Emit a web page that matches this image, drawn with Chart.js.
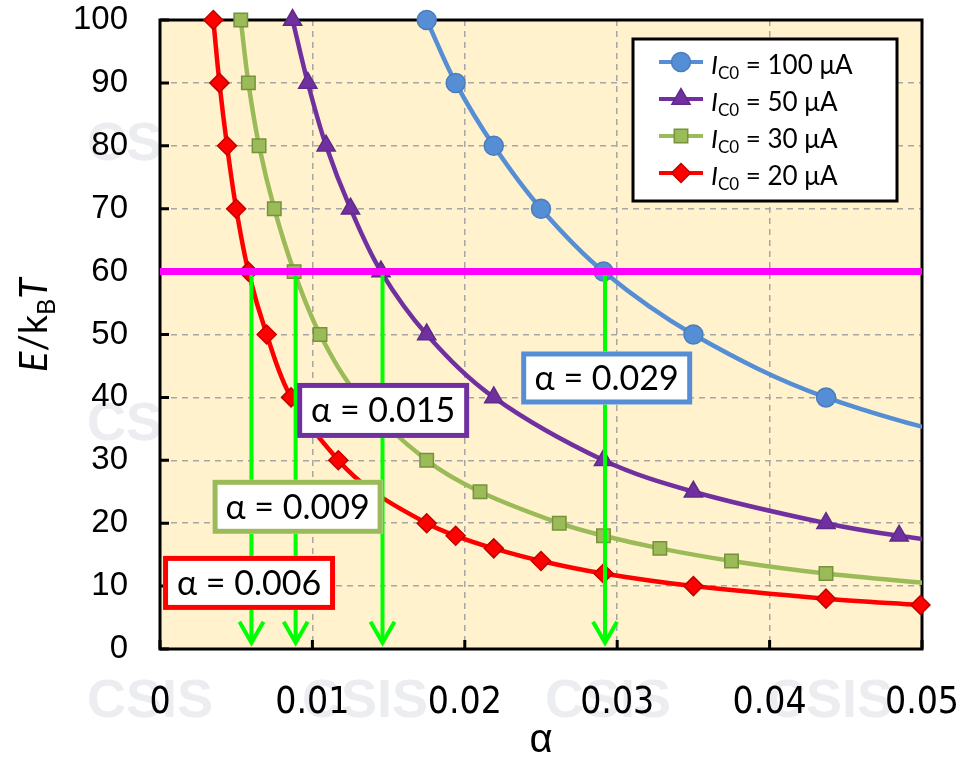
<!DOCTYPE html>
<html>
<head>
<meta charset="utf-8">
<title>E/kBT vs alpha</title>
<script src="https://cdn.jsdelivr.net/npm/chart.js@4.4.1/dist/chart.umd.min.js"></script>
<style>
  html, body { margin: 0; padding: 0; background: #fff; }
  canvas { display: block; }
</style>
</head>
<body>
<canvas id="chart" width="966" height="760"></canvas>
<script>
// values: alpha (x) and E/kBT (y), one pair of arrays per I_C0
const alpha_100 = [0.0175, 0.0194, 0.0219, 0.0250, 0.0291, 0.0350, 0.0437, 0.0583];
const e_100     = [100, 90, 80, 70, 60, 50, 40, 30];

const alpha_50 = [0.0087, 0.0097, 0.0109, 0.0125, 0.0145, 0.0175, 0.0219, 0.0291, 0.0350, 0.0437, 0.0485, 0.0583];
const e_50     = [100, 90, 80, 70, 60, 50, 40, 30, 25, 20, 18, 15];

const alpha_30 = [0.0053, 0.0058, 0.0065, 0.0075, 0.0088, 0.0105, 0.0131, 0.0175, 0.0210, 0.0262, 0.0291, 0.0328, 0.0375, 0.0437, 0.0525];
const e_30     = [100, 90, 80, 70, 60, 50, 40, 30, 25, 20, 18, 16, 14, 12, 10];

const alpha_20 = [0.0035, 0.0039, 0.0044, 0.0050, 0.0058, 0.0070, 0.0086, 0.0117, 0.0140, 0.0175, 0.0194, 0.0219, 0.0250, 0.0291, 0.0350, 0.0437, 0.0499];
const e_20     = [100, 90, 80, 70, 60, 50, 40, 30, 25, 20, 18, 16, 14, 12, 10, 8, 7];

const series_currents = ['100', '50', '30', '20'];

// E/kBT = 60 threshold and where each curve crosses it
const threshold = 60;
const arrow_alpha = [0.0060, 0.0089, 0.0146, 0.0292];
const arrow_labels = ['α = 0.006', 'α = 0.009', 'α = 0.015', 'α = 0.029'];

// label box anchors (top-left, data units) and sizes in px
const label_boxes = [
    {x: 0.0002, y: 14.8, w: 172, h: 54, color: '#FF0000'},
    {x: 0.00345, y: 26.9, w: 170, h: 54, color: '#9BBB59'},
    {x: 0.0090, y: 42.3, w: 172, h: 55, color: '#7030A0'},
    {x: 0.0237, y: 47.3, w: 171, h: 53, color: '#558ED5'}
];

const rich_font = 'Lato, "Open Sans", "DejaVu Sans", sans-serif';

function to_points(xs, ys){
    return xs.map((x, i) => ({x: x, y: ys[i]}));
}

function series(current, xs, ys, line, fill, edge, style, radius, right_clip){
    return {
        label: current,
        data: to_points(xs, ys),
        borderColor: line,
        borderWidth: 4.5,
        tension: 0.35,
        pointStyle: style,
        pointRadius: radius,
        pointHoverRadius: radius,
        pointBackgroundColor: fill,
        pointBorderColor: edge,
        pointBorderWidth: 1.5,
        clip: {left: 14, top: 14, right: right_clip, bottom: 14},
        is_series: true
    };
}

// draw text made of pieces: [text, kind] with kind '' normal, 'i' italic, 's' subscript
function draw_rich(ctx, parts, x, y, size, align){
    const font_of = p => (p[1] === 'i' ? 'italic ' : '') + (p[1] === 's' ? Math.round(size * 0.66) : size) + 'px ' + rich_font;
    let total = 0;
    parts.forEach(p => { ctx.font = font_of(p); total += ctx.measureText(p[0]).width; });
    let cx = align === 'center' ? x - total / 2 : x;
    ctx.textAlign = 'left';
    ctx.textBaseline = 'alphabetic';
    parts.forEach(p => {
        ctx.font = font_of(p);
        ctx.fillText(p[0], cx, y + (p[1] === 's' ? size * 0.2 : 0));
        cx += ctx.measureText(p[0]).width;
    });
}

const decor_plugin = {
    id: 'decor',
    beforeDraw(chart){
        const ctx = chart.ctx;
        const a = chart.chartArea;
        ctx.save();
        ctx.fillStyle = '#fff';
        ctx.fillRect(0, 0, chart.width, chart.height);
        // faint watermark behind the chart
        ctx.fillStyle = '#ECEDF0';
        ctx.font = 'bold 54px "Liberation Sans", Arial, sans-serif';
        ctx.textAlign = 'center';
        ctx.textBaseline = 'alphabetic';
        [160, 440].forEach(y => ctx.fillText('CSIS', 150, y));
        [150, 365, 608, 830].forEach(x => ctx.fillText('CSIS', x, 717));
        ctx.fillStyle = '#FFF2CC';
        ctx.fillRect(a.left, a.top, a.right - a.left, a.bottom - a.top);
        ctx.restore();
    },
    beforeDatasetsDraw(chart){
        const ctx = chart.ctx;
        const a = chart.chartArea;
        const xs = chart.scales.x, ys = chart.scales.y;
        ctx.save();
        ctx.strokeStyle = '#000';
        ctx.lineWidth = 3;
        ctx.strokeRect(a.left, a.top, a.right - a.left, a.bottom - a.top);
        ctx.beginPath();
        ys.ticks.forEach(t => {
            const y = ys.getPixelForValue(t.value);
            ctx.moveTo(a.left, y); ctx.lineTo(a.left + 9, y);
        });
        xs.ticks.forEach(t => {
            const x = xs.getPixelForValue(t.value);
            ctx.moveTo(x, a.bottom); ctx.lineTo(x, a.bottom - 9);
        });
        ctx.stroke();
        ctx.restore();
    },
    afterDatasetsDraw(chart){
        const ctx = chart.ctx;
        ctx.save();
        ctx.strokeStyle = '#00FF00';
        ctx.lineWidth = 4;
        ctx.lineJoin = 'miter';
        chart.data.datasets.forEach((ds, i) => {
            if (!ds.is_arrow) return;
            const tip = chart.getDatasetMeta(i).data[1];
            ctx.beginPath();
            ctx.moveTo(tip.x - 12, tip.y - 21);
            ctx.lineTo(tip.x, tip.y);
            ctx.lineTo(tip.x + 12, tip.y - 21);
            ctx.stroke();
        });
        ctx.restore();
    },
    afterDraw(chart){
        const ctx = chart.ctx;
        const a = chart.chartArea;
        const xs = chart.scales.x, ys = chart.scales.y;
        ctx.save();

        // alpha labels in boxes
        label_boxes.forEach((b, i) => {
            const left = xs.getPixelForValue(b.x);
            const top = ys.getPixelForValue(b.y);
            ctx.fillStyle = '#fff';
            ctx.fillRect(left, top, b.w, b.h);
            ctx.strokeStyle = b.color;
            ctx.lineWidth = 5;
            ctx.strokeRect(left + 2.5, top + 2.5, b.w - 5, b.h - 5);
            ctx.fillStyle = '#000';
            ctx.font = '34px ' + rich_font;
            ctx.textAlign = 'center';
            ctx.textBaseline = 'alphabetic';
            ctx.fillText(arrow_labels[i], left + b.w / 2, top + b.h / 2 + 12);
        });

        // legend
        const lx = 633, ly = 39, lw = 264, lh = 162;
        ctx.fillStyle = '#fff';
        ctx.fillRect(lx, ly, lw, lh);
        ctx.strokeStyle = '#000';
        ctx.lineWidth = 3;
        ctx.strokeRect(lx, ly, lw, lh);
        let row = 0;
        chart.data.datasets.forEach(ds => {
            if (!ds.is_series) return;
            const cy = 62 + row * 37;
            ctx.strokeStyle = ds.borderColor;
            ctx.lineWidth = 4;
            ctx.beginPath();
            ctx.moveTo(659, cy); ctx.lineTo(703, cy);
            ctx.stroke();
            ctx.fillStyle = ds.pointBackgroundColor;
            ctx.strokeStyle = ds.pointBorderColor;
            ctx.lineWidth = ds.pointBorderWidth;
            Chart.helpers.drawPoint(ctx, {pointStyle: ds.pointStyle, radius: ds.pointRadius, borderWidth: ds.pointBorderWidth, rotation: 0}, 681, cy);
            ctx.fillStyle = '#000';
            draw_rich(ctx, [['I', 'i'], ['C0', 's'], [' = ' + ds.label + ' μA', '']], 711, cy + 12, 26, 'left');
            row++;
        });

        // axis titles
        ctx.fillStyle = '#000';
        ctx.font = '40px "Liberation Sans", Arial, sans-serif';
        ctx.textAlign = 'center';
        ctx.textBaseline = 'alphabetic';
        ctx.fillText('α', (a.left + a.right) / 2, 752);

        ctx.translate(47, 325);
        ctx.rotate(-Math.PI / 2);
        draw_rich(ctx, [['E', 'i'], ['/k', ''], ['B', 's'], ['T', 'i']], 0, 0, 38, 'center');
        ctx.restore();
    }
};

const datasets = [];
datasets.push({
    label: 'threshold',
    data: [{x: 0, y: threshold}, {x: 0.05, y: threshold}],
    borderColor: '#FF00FF',
    borderWidth: 7,
    pointRadius: 0,
    clip: 0
});
arrow_alpha.forEach(a => {
    datasets.push({
        label: 'arrow',
        data: [{x: a, y: threshold}, {x: a, y: 1}],
        borderColor: '#00FF00',
        borderWidth: 4,
        pointRadius: 0,
        is_arrow: true
    });
});
datasets.push(series(series_currents[0], alpha_100, e_100, '#558ED5', '#558ED5', '#4A7EBB', 'circle', 9.5, 0));
datasets.push(series(series_currents[1], alpha_50, e_50, '#7030A0', '#7030A0', '#5F2B87', 'triangle', 10.5, 0));
datasets.push(series(series_currents[2], alpha_30, e_30, '#9BBB59', '#9BBB59', '#76923C', 'rect', 9.5, 0));
datasets.push(series(series_currents[3], alpha_20, e_20, '#FF0000', '#FF0000', '#C00000', 'rectRot', 9.5, 14));

const chart = new Chart(document.getElementById('chart'), {
    type: 'line',
    data: {datasets: datasets},
    plugins: [decor_plugin],
    options: {
        responsive: false,
        animation: false,
        devicePixelRatio: 1,
        events: [],
        layout: {padding: {top: 20, right: 44, left: 0, bottom: 0}},
        plugins: {legend: {display: false}, tooltip: {enabled: false}},
        scales: {
            x: {
                type: 'linear',
                min: 0,
                max: 0.05,
                afterFit: s => { s.height = 111; s.paddingLeft = 0; s.paddingRight = 0; },
                ticks: {
                    stepSize: 0.01,
                    padding: 32,
                    color: '#000',
                    font: {family: '"Liberation Sans Narrow", "DejaVu Sans Condensed", "Liberation Sans", Arial', size: 37},
                    callback: v => String(+v.toFixed(2))
                },
                grid: {color: '#A6A6A6', lineWidth: 1.5, drawTicks: false},
                border: {display: false, dash: [6, 5]}
            },
            y: {
                type: 'linear',
                min: 0,
                max: 100,
                afterFit: s => { s.width = 160; s.paddingTop = 0; s.paddingBottom = 0; },
                ticks: {
                    stepSize: 10,
                    padding: 32,
                    color: '#000',
                    font: {family: '"Liberation Sans", Arial', size: 33}
                },
                grid: {color: '#A6A6A6', lineWidth: 1.5, drawTicks: false},
                border: {display: false, dash: [6, 5]}
            }
        }
    }
});
</script>
</body>
</html>
